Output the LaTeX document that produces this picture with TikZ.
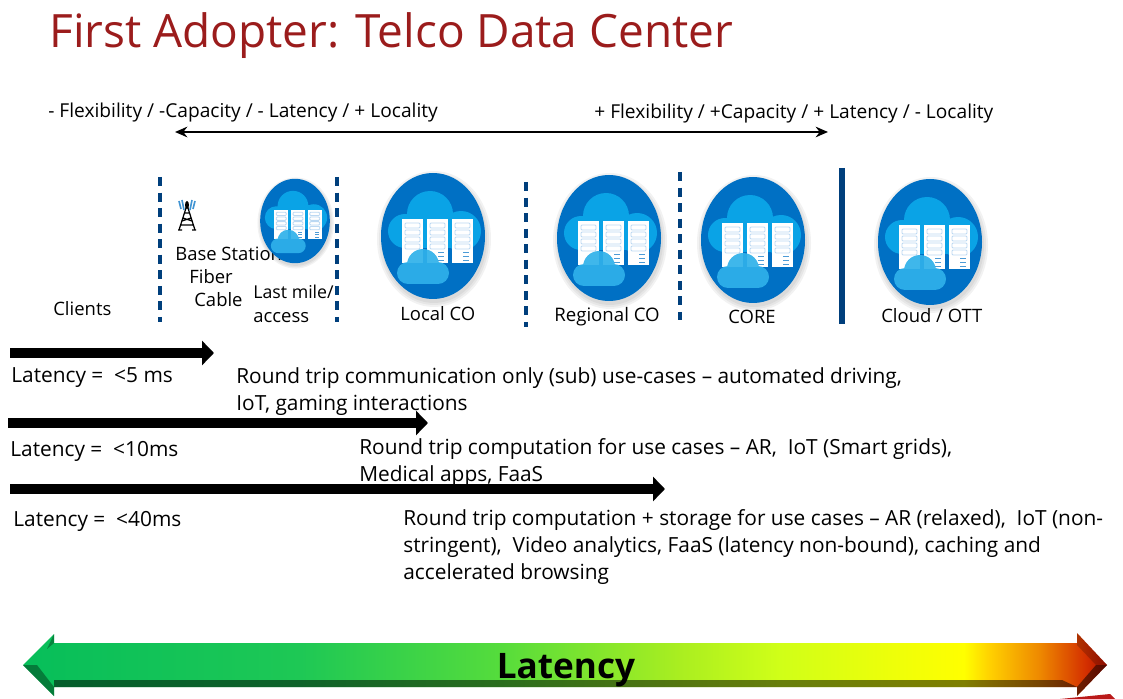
\documentclass[tikz,border=0pt]{standalone}
\usepackage{fontspec}
\setmainfont{Open Sans}
\usetikzlibrary{arrows.meta}
\definecolor{titlered}{HTML}{9B1C1C}
\definecolor{lineblue}{HTML}{003F7C}
\definecolor{discblue}{HTML}{0070C4}
\definecolor{skyblue}{HTML}{0AA3E6}
\definecolor{slotblue}{HTML}{BBD8F2}
\definecolor{barA}{HTML}{07BE5A}
\definecolor{barB}{HTML}{1EC855}
\definecolor{barC}{HTML}{55DC3C}
\definecolor{barD}{HTML}{AAEE20}
\definecolor{barD2}{HTML}{D0FF18}
\definecolor{barD3}{HTML}{F0FF08}
\definecolor{barE}{HTML}{FFFF00}
\definecolor{barF}{HTML}{FFD000}
\definecolor{barG}{HTML}{EE8800}
\definecolor{barH}{HTML}{D43000}
\definecolor{barI}{HTML}{B01000}
\pgfdeclarehorizontalshading{latencybar}{100bp}{color(0bp)=(barA); color(25bp)=(barA); color(37.8bp)=(barB); color(47bp)=(barC); color(55.3bp)=(barD); color(59.9bp)=(barD2); color(65.5bp)=(barD3); color(68.4bp)=(barE); color(69.6bp)=(barF); color(71.9bp)=(barG); color(74bp)=(barH); color(75bp)=(barI); color(100bp)=(barI)}
\def\pxfont#1{\fontsize{#1}{#1}\selectfont}
\tikzset{
	toplabel/.style={anchor=base west, inner sep=0, font=\fontsize{10.9}{13}\selectfont},
	iconlabel/.style={anchor=base west, inner sep=0, font=\fontsize{10.5}{13}\selectfont},
	bodylabel/.style={anchor=base west, inner sep=0, align=left, font=\fontsize{11.87}{15.3}\selectfont},
	slashline/.style={line width=3.4*0.567pt, color=lineblue, dash pattern=on 9*0.567pt off 6.6*0.567pt},
	latarrow/.style={line width=11*0.567pt, -{Triangle[length=12*0.567pt, width=24*0.567pt]}},
	bevel/.style={fill=black, fill opacity=#1},
	cloudco/.pic={
		\foreach \r in {5,3,1}
			\fill[black, opacity=0.05] (1,3) ellipse [x radius=52+\r, y radius=63+\r];
		\fill[discblue] (0,0) ellipse [x radius=52, y radius=63];
		\fill[skyblue] (-3,-22) circle (23) (-28,-5) circle (17) (28,-5) circle (20) (28,-12) rectangle (-28,12);
		\foreach \sx in {-31,-6,19} {
			\fill[white] (\sx,-17) rectangle ++(21,44);
			\foreach \sy in {-13,-6,1,8}
				\draw[slotblue, fill=white, line width=0.5pt, rounded corners=0.6pt] (\sx+3,\sy) rectangle ++(15,5);
		}
		\foreach \sx in {-6,19}
			\foreach \sy in {16,20,24}
				\fill[discblue!70] (\sx+11,\sy) rectangle ++(6,1.5);
		\fill[skyblue!85!white, opacity=0.92] (-10,29) circle (16) (-25,37) circle (11) (5,37) circle (11) (5,30) rectangle (-25,48);
	}
}

\begin{document}
\begin{tikzpicture}[x=0.02cm, y=-0.02cm]
	%%%%% START %%%%%
	\useasboundingbox (0,0) rectangle (1123,699);

	\node[anchor=base west, inner sep=0, text=titlered, font=\pxfont{26.15}] (title) at (49,48) {First Adopter: Telco Data Center};

	\node[toplabel] (lessflex) at (48,118) {- Flexibility / -Capacity / - Latency / + Locality};
	\node[toplabel] (moreflex) at (594,119) {+ Flexibility / +Capacity / + Latency / - Locality};
	\coordinate (rangeleft) at (175,132);
	\coordinate (rangeright) at (828,132);
	\draw[line width=1.2pt, {Stealth[length=7pt, width=6pt]}-{Stealth[length=7pt, width=6pt]}] (rangeleft) -- (rangeright);

	\draw[slashline] (160,177) -- (160,322);
	\draw[slashline] (337,177) -- (337,322);
	\draw[slashline] (526,182) -- (526,327);
	\draw[slashline] (680,172) -- (680,320);
	\draw[line width=7*0.567pt, color=lineblue] (842,168) -- (842,324);

	% radio mast
	\draw[line width=0.7pt] (187,205) -- (179,230) (187,205) -- (195,230) (178,230) -- (182,230) (192,230) -- (196,230)
		(184,213) -- (190,213) (183,218) -- (192,221) (191,218) -- (182,221) (181,225) -- (193,225);
	\fill (187,205) ellipse [x radius=2, y radius=4];
	\draw[line width=0.9pt, color=discblue!75] (182,200) -- (184,210) (192,200) -- (190,210) (179,201) -- (181,209) (195,201) -- (193,209);

	\node[iconlabel] (basestation) at (175,261) {Base Station};
	\node[iconlabel] (fiber) at (189,284) {Fiber};
	\node[iconlabel] (cable) at (194,307) {Cable};
	\node[iconlabel, font=\fontsize{10.1}{13}\selectfont] (lastmile) at (253,299) {Last mile/};
	\node[iconlabel] (access) at (253,323) {access};
	\node[iconlabel] (clients) at (53,316) {Clients};
	\node[iconlabel] (localco) at (400,320) {Local CO};
	\node[iconlabel, font=\fontsize{10.6}{13}\selectfont] (regionalco) at (554,322) {Regional CO};
	\node[iconlabel] (corelabel) at (728,324) {CORE};
	\node[iconlabel] (cloudott) at (881,323) {Cloud / OTT};

	\pic[scale=0.67] at (295,221) {cloudco};
	\pic at (433,236) {cloudco};
	\pic at (609,238) {cloudco};
	\pic at (753,240) {cloudco};
	\pic at (930,242) {cloudco};

	\coordinate (fivestart) at (10,353);
	\coordinate (fiveend) at (214,353);
	\coordinate (tenstart) at (8,423);
	\coordinate (tenend) at (428,423);
	\coordinate (fortystart) at (10,489);
	\coordinate (fortyend) at (665,489);
	\draw[latarrow] (fivestart) -- (fiveend);
	\draw[latarrow] (tenstart) -- (tenend);
	\draw[latarrow] (fortystart) -- (fortyend);

	\node[bodylabel] (fivems) at (11,382) {Latency = \ <5 ms};
	\node[bodylabel] (tenms) at (10,456) {Latency = \ <10ms};
	\node[bodylabel] (fortyms) at (13,526) {Latency = \ <40ms};

	\node[bodylabel] (fiveuse) at (236,410) {Round trip communication only (sub) use-cases -- automated driving,\\IoT, gaming interactions};
	\node[bodylabel] (tenuse) at (359,481) {Round trip computation for use cases -- AR,\ \ IoT (Smart grids),\\Medical apps, FaaS};
	\node[bodylabel] (fortyuse) at (403,579) {Round trip computation + storage for use cases -- AR (relaxed),\ \ IoT (non-\\stringent),\ \ Video analytics, FaaS (latency non-bound), caching and\\accelerated browsing};

	% latency bar
	\fill[color=red!70!black!90] (1060,699) -- (1110,694) -- (1115,699) -- cycle;
	\shade[shading=latencybar] (23,665) -- (54,634) -- (54,643) -- (1077,643) -- (1077,633) -- (1107,665) -- (1077,696) -- (1077,687) -- (54,687) -- (54,696) -- cycle;
	\fill[bevel=0.5] (54,680) -- (1062,680) -- (1077,687) -- (54,687) -- cycle;
	\fill[bevel=0.35] (23,665) -- (54,696) -- (54,687) -- (37,665) -- cycle;
	\fill[bevel=0.3] (54,634) -- (54,643) -- (47,649) -- cycle;
	\fill[bevel=0.2] (1077,633) -- (1107,665) -- (1096,665) -- (1077,645) -- cycle;
	\fill[bevel=0.5] (1107,665) -- (1077,696) -- (1077,687) -- (1096,665) -- cycle;
	\node[anchor=base, inner sep=0, font=\pxfont{20}\bfseries] (latency) at (566,678) {Latency};
	%%%%% END %%%%%
\end{tikzpicture}
\end{document}
